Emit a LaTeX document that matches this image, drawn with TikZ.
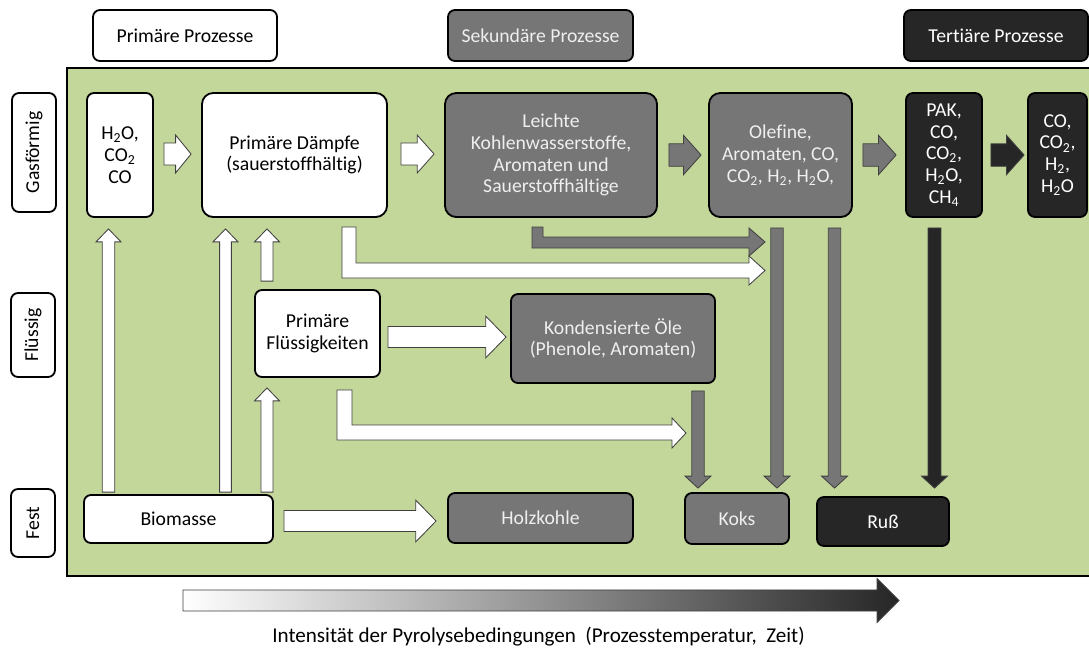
\documentclass[tikz,border=0pt]{standalone}
\usepackage{fontspec}
\setmainfont{Carlito}[Ligatures=NoCommon]
\usepackage{tikz}
\usetikzlibrary{calc,positioning}
\definecolor{pyGreen}{HTML}{C4D79B}
\definecolor{pyGray}{HTML}{767676}
\definecolor{pyDark}{HTML}{262626}
\definecolor{pyLight}{HTML}{EFEFEF}
\definecolor{pyLine}{HTML}{404040}

% block arrow: style, from, to, half shaft, half head, head length
\newcommand{\blockarrow}[6]{%
  \coordinate (ba-s) at (#2);
  \coordinate (ba-e) at (#3);
  \coordinate (ba-m) at ($(ba-e)!#6!(ba-s)$);
  \draw[#1] ($(ba-s)!#4!90:(ba-e)$) -- ($(ba-m)!#4!90:(ba-e)$)
    -- ($(ba-m)!#5!90:(ba-e)$) -- (ba-e) -- ($(ba-m)!#5!-90:(ba-e)$)
    -- ($(ba-m)!#4!-90:(ba-e)$) -- ($(ba-s)!#4!-90:(ba-e)$) -- cycle;}

\begin{document}
\begin{tikzpicture}[x=0.025cm,y=-0.025cm,
  font=\fontsize{14}{15.5}\selectfont,
  b/.style={draw=black,line width=1.3pt,fill=white,rounded corners=5pt,
            align=center,inner sep=2pt},
  sec/.style={b,fill=pyGray,text=pyLight},
  ter/.style={b,fill=pyDark,text=white},
  lab/.style={b,rotate=90,minimum height=1.1cm},
  wa/.style={draw=pyLine,line width=0.6pt,fill=white},
  ga/.style={wa,fill=pyGray},
  da/.style={wa,fill=pyDark}]
  \useasboundingbox (0,0) rectangle (1089,653);
  \draw[line width=1.5pt,fill=pyGreen] (67,68) rectangle (1100,576);

  \node[b,minimum width=4.6cm,minimum height=1.275cm]   (hp) at (185,35.5)   {Primäre Prozesse};
  \node[sec,minimum width=4.625cm,minimum height=1.275cm](hs) at (540.5,35.5) {Sekundäre Prozesse};
  \node[ter,minimum width=4.6cm,minimum height=1.275cm] (ht) at (996,35.5)   {Tertiäre Prozesse};

  \node[lab,minimum width=2.975cm] (lg)  at (34,152.5) {Gasförmig};
  \node[lab,minimum width=2.1cm]   (lf)  at (33,335)   {Flüssig};
  \node[lab,minimum width=1.7cm]   (lfe) at (33,523)   {Fest};

  \node[b,minimum width=1.65cm,minimum height=3.1cm]   (h2o) at (120,155)
    {H\textsubscript{2}O,\\CO\textsubscript{2}\\CO};
  \node[b,rounded corners=8pt,minimum width=4.625cm,minimum height=3.1cm] (pd) at (294.5,155)
    {Primäre Dämpfe\\(sauerstoffhältig)};
  \node[sec,rounded corners=8pt,minimum width=5.3cm,minimum height=3.1cm] (lkw) at (551,155)
    {Leichte\\Kohlenwasserstoffe,\\Aromaten und\\Sauerstoffhältige};
  \node[sec,rounded corners=8pt,minimum width=3.575cm,minimum height=3.1cm] (ole) at (780.5,155)
    {Olefine,\\Aromaten, CO,\\CO\textsubscript{2}, H\textsubscript{2}, H\textsubscript{2}O,};
  \node[ter,minimum width=1.9cm,minimum height=3.1cm]   (pak) at (944,155)
    {PAK,\\CO,\\CO\textsubscript{2},\\H\textsubscript{2}O,\\CH\textsubscript{4}};
  \node[ter,minimum width=1.475cm,minimum height=3.1cm] (gas) at (1057.5,155)
    {CO,\\CO\textsubscript{2},\\H\textsubscript{2},\\H\textsubscript{2}O};

  \node[b,minimum width=3.125cm,minimum height=2.175cm] (pfl) at (317.5,333.5)
    {Primäre\\Flüssigkeiten};
  \node[sec,minimum width=5.1cm,minimum height=2.225cm] (koe) at (613,338.5)
    {Kondensierte Öle\\(Phenole, Aromaten)};

  \node[b,minimum width=4.725cm,minimum height=1.2cm]   (bio)  at (178.5,519) {Biomasse};
  \node[sec,minimum width=4.625cm,minimum height=1.25cm](hk)   at (540.5,518) {Holzkohle};
  \node[sec,minimum width=2.6cm,minimum height=1.275cm] (koks) at (737,518.5) {Koks};
  \node[ter,minimum width=3.3cm,minimum height=1.225cm] (russ) at (883,521.5) {Ruß};

  \blockarrow{wa}{$(h2o.east)+(10,-1)$}{$(pd.west)+(-10,-1)$}{7.8pt}{13.5pt}{11pt}
  \blockarrow{wa}{$(pd.east)+(13,-1)$}{$(lkw.west)+(-10,-1)$}{7.8pt}{13.5pt}{12pt}
  \blockarrow{ga}{$(lkw.east)+(11,0)$}{$(ole.west)+(-7,0)$}{8pt}{14pt}{12.5pt}
  \blockarrow{ga}{$(ole.east)+(10,0)$}{$(pak.west)+(-9,0)$}{8pt}{14pt}{12.5pt}
  \blockarrow{da}{$(pak.east)+(8,0)$}{$(gas.west)+(-3,0)$}{8pt}{14pt}{12.5pt}

  \blockarrow{wa}{$(bio.north)+(-70,-2)$}{$(h2o.south)+(-11.5,11)$}{4.4pt}{8.9pt}{9.2pt}
  \blockarrow{wa}{$(bio.north)+(47,-2)$}{$(pd.south)+(-69,11)$}{4.2pt}{8.9pt}{9.2pt}
  \blockarrow{wa}{$(pfl.north)+(-50.5,-8)$}{$(pd.south)+(-27.5,11)$}{4.3pt}{8.9pt}{9.2pt}
  \blockarrow{wa}{$(bio.north)+(88.5,-2)$}{$(pfl.south)+(-50.5,10)$}{4.3pt}{8.9pt}{9.2pt}

  \blockarrow{wa}{$(pfl.east)+(7,3.5)$}{$(koe.west)+(-4,-1.5)$}{7.5pt}{14.9pt}{14.5pt}
  \blockarrow{wa}{$(bio.east)+(10,2)$}{$(hk.west)+(-11,3)$}{7.5pt}{14.9pt}{14.5pt}

  \draw[ga] (532,227) -- (543,227) -- (543,237) -- (749,237) -- (749,228) -- (765,242)
    -- (749,256) -- (749,248) -- (532,248) -- cycle;
  \draw[wa] (342,227) -- (356,227) -- (356,263) -- (749,263) -- (749,256) -- (765,270.5)
    -- (749,285) -- (749,278) -- (342,278) -- cycle;
  \draw[wa] (337,390) -- (352,390) -- (352,425) -- (672,425) -- (672,418) -- (686,433)
    -- (672,448) -- (672,440) -- (337,440) -- cycle;

  \blockarrow{ga}{$(koe.south)+(85,7)$}{$(koks.north)+(-39,-4)$}{4.4pt}{9.2pt}{8.5pt}
  \blockarrow{ga}{$(ole.south)+(-3.5,10)$}{$(koks.north)+(40,-4)$}{4.4pt}{9.2pt}{8.5pt}
  \blockarrow{ga}{$(ole.south)+(54,10)$}{$(russ.north)+(-48.5,-8)$}{4.4pt}{9.2pt}{8.5pt}
  \blockarrow{da}{$(pak.south)+(-9.5,10)$}{$(russ.north)+(51.5,-8)$}{4.6pt}{9.2pt}{8.5pt}

  \coordinate (gs) at (183,600.5);
  \coordinate (ge) at (899,600.5);
  \blockarrow{draw=pyLine,line width=0.6pt,left color=white,right color=pyDark}{gs}{ge}{7.5pt}{15.6pt}{15.6pt}
  \node[font=\fontsize{15}{17}\selectfont] (cap) at (538.5,637)
    {Intensität der Pyrolysebedingungen \ (Prozesstemperatur, \ Zeit)};
\end{tikzpicture}
\end{document}
